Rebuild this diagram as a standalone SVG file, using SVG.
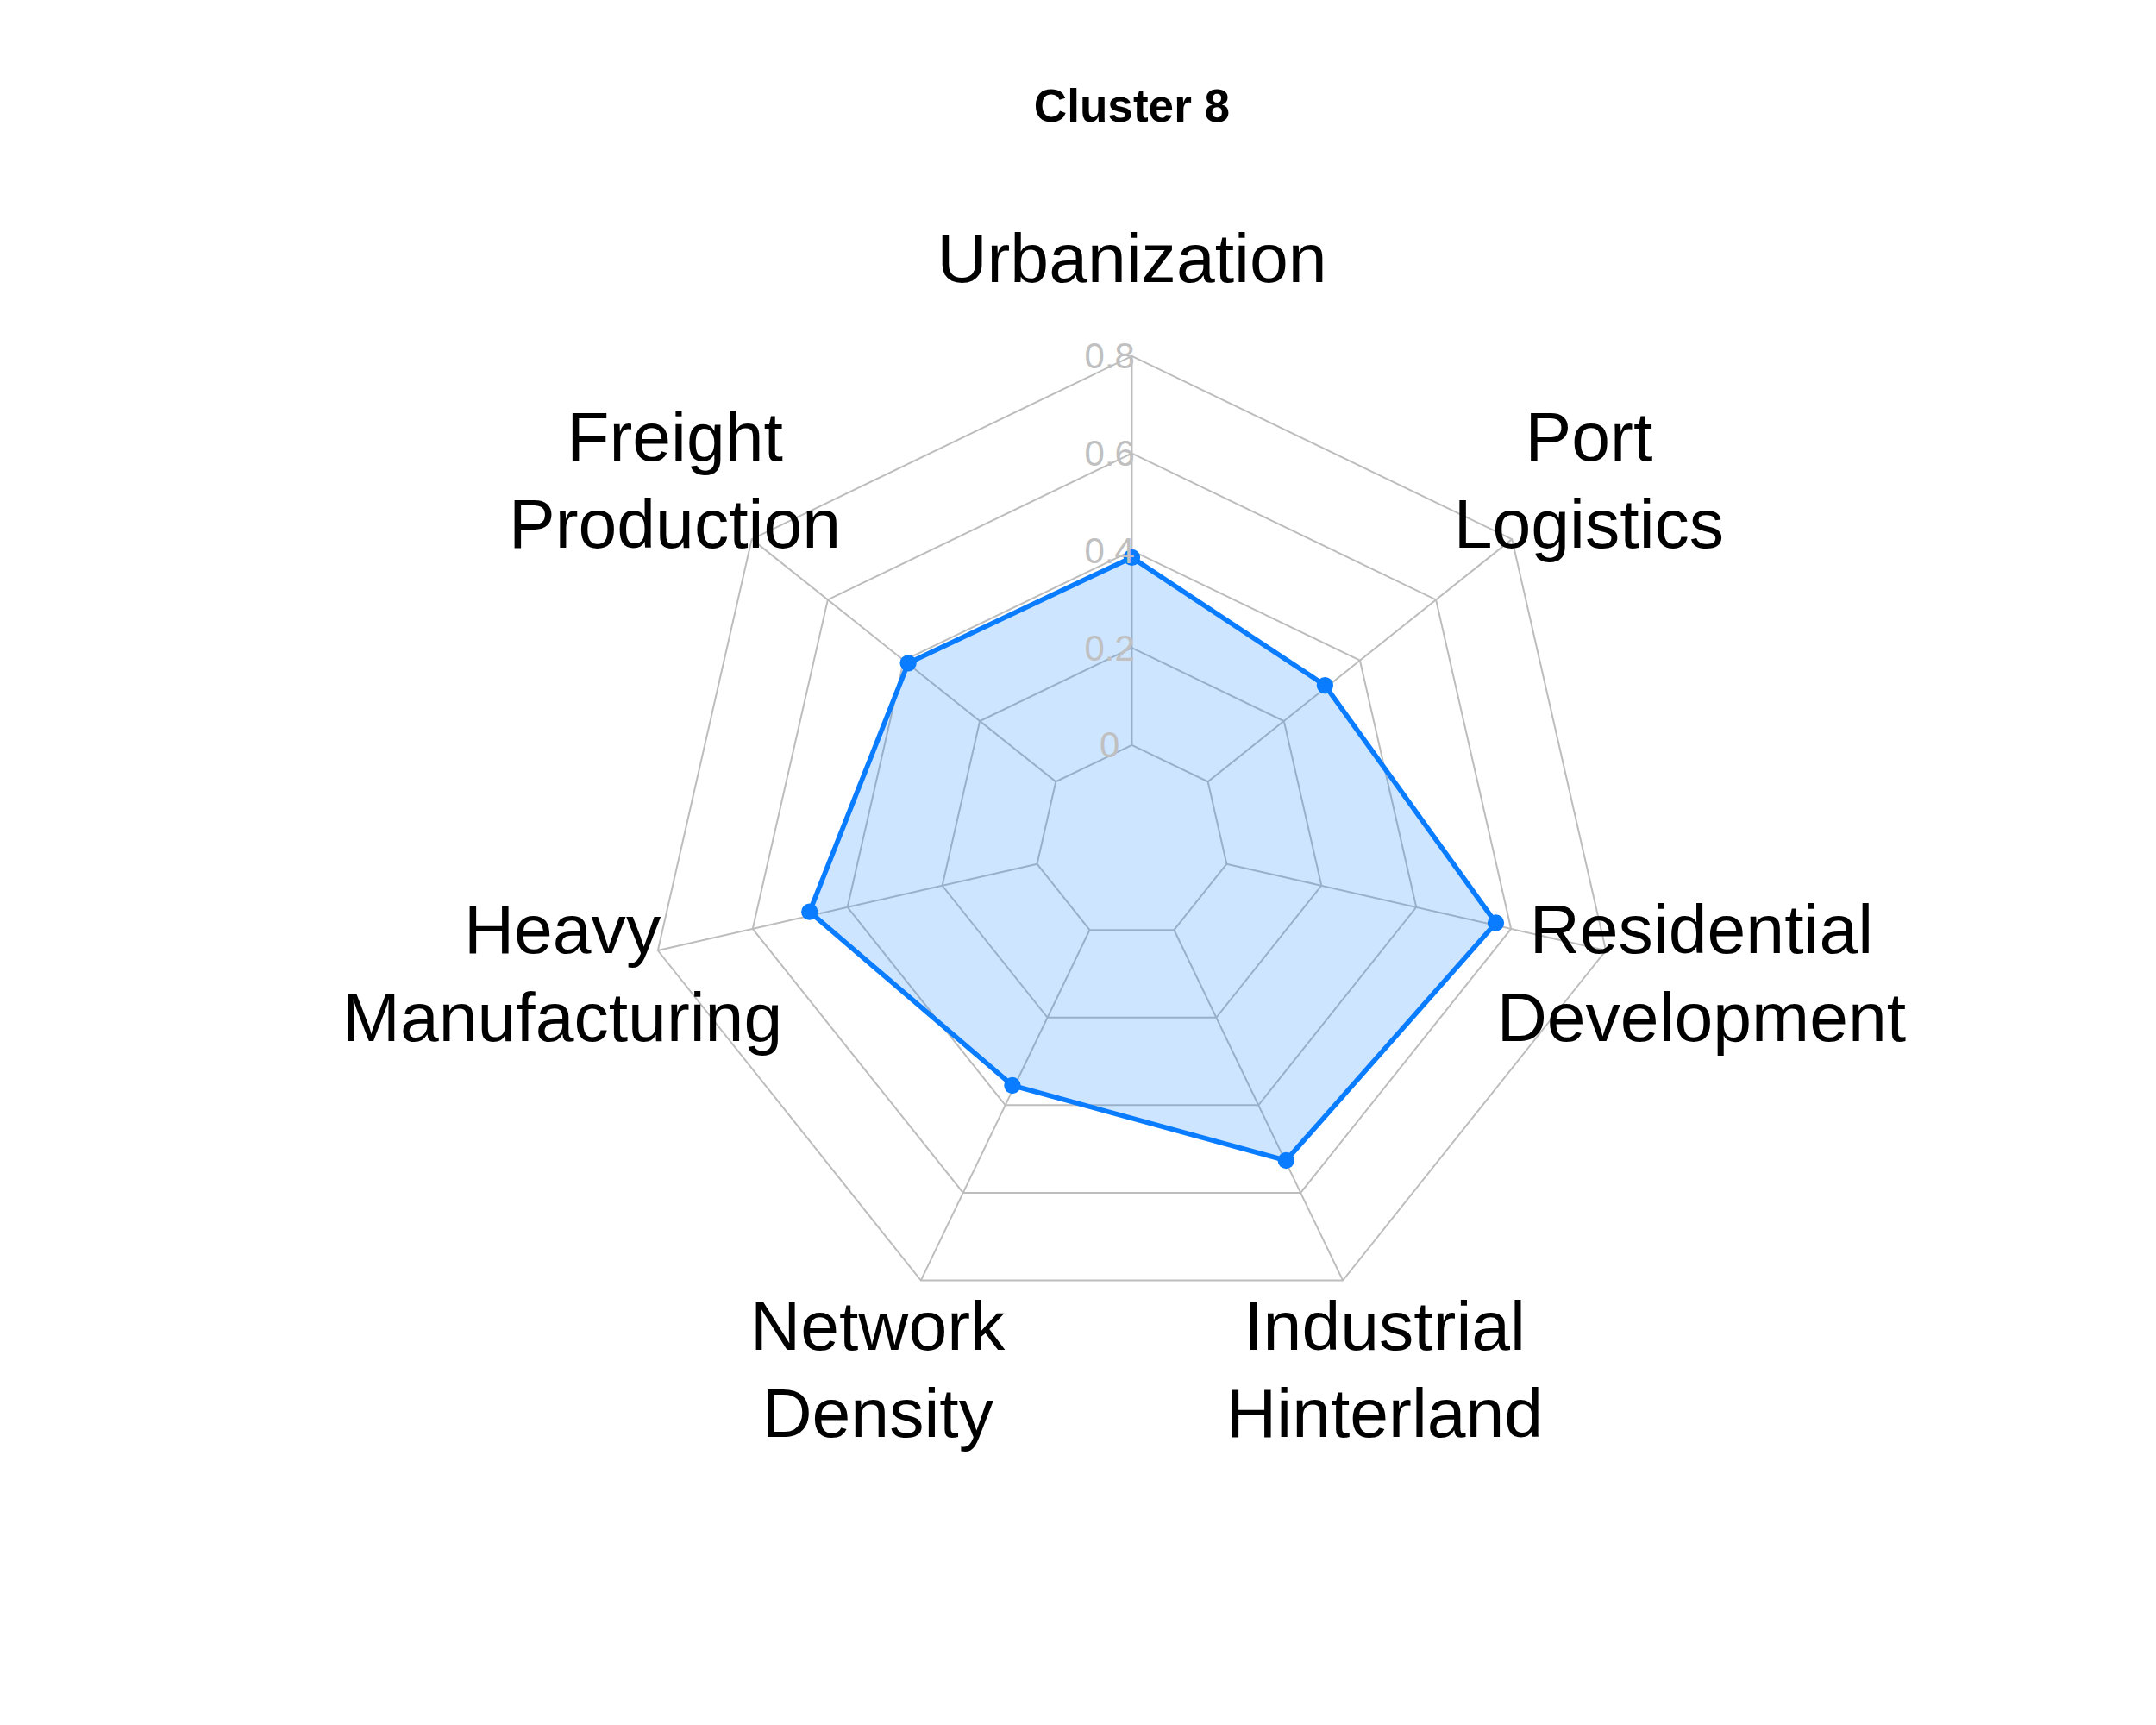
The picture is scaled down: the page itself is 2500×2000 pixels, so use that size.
<svg xmlns="http://www.w3.org/2000/svg" width="2500" height="2000" viewBox="0 0 2500 2000">
<style>
.grid{fill:none;stroke:#bdbdbd;stroke-width:2}
.tick{font-family:"Liberation Sans",Arial,sans-serif;font-size:26px;fill:#c0c0c0;text-anchor:middle;dominant-baseline:central}
.lab{font-family:"Liberation Sans",Arial,sans-serif;font-size:50px;fill:#000;text-anchor:middle}
.pt{fill:#0a7cff}
</style>
<rect width="2500" height="2000" fill="#fff"/>
<g transform="translate(-10,-6) scale(1.6108)">
<text x="821" y="91" font-family="Liberation Sans,Arial,sans-serif" font-size="33" font-weight="bold" text-anchor="middle">Cluster 8</text>
<g id="grid" class="grid">
<polygon vector-effect="non-scaling-stroke" transform="translate(821,610) scale(70)" points="0,-1 0.7818,-0.6235 0.9749,0.2225 0.4339,0.901 -0.4339,0.901 -0.9749,0.2225 -0.7818,-0.6235"/>
<polygon vector-effect="non-scaling-stroke" transform="translate(821,610) scale(140)" points="0,-1 0.7818,-0.6235 0.9749,0.2225 0.4339,0.901 -0.4339,0.901 -0.9749,0.2225 -0.7818,-0.6235"/>
<polygon vector-effect="non-scaling-stroke" transform="translate(821,610) scale(210)" points="0,-1 0.7818,-0.6235 0.9749,0.2225 0.4339,0.901 -0.4339,0.901 -0.9749,0.2225 -0.7818,-0.6235"/>
<polygon vector-effect="non-scaling-stroke" transform="translate(821,610) scale(280)" points="0,-1 0.7818,-0.6235 0.9749,0.2225 0.4339,0.901 -0.4339,0.901 -0.9749,0.2225 -0.7818,-0.6235"/>
<polygon vector-effect="non-scaling-stroke" transform="translate(821,610) scale(350)" points="0,-1 0.7818,-0.6235 0.9749,0.2225 0.4339,0.901 -0.4339,0.901 -0.9749,0.2225 -0.7818,-0.6235"/>
<path vector-effect="non-scaling-stroke" d="M821,540L821,260 M875.7,566.4L1094.6,391.8 M889.2,625.6L1162.2,687.9 M851.4,673.1L972.9,925.4 M790.6,673.1L669.1,925.4 M752.8,625.6L479.8,687.9 M766.3,566.4L547.4,391.8"/>
</g>
<g id="series">
<polygon points="821,405 960,497 1083,668 932,839 735,785 589,660 660,481" fill="#0a7cff" fill-opacity="0.2" stroke="#0a7cff" stroke-width="3.5" stroke-linejoin="round"/>
<circle class="pt" cx="821" cy="405" r="6"/><circle class="pt" cx="960" cy="497" r="6"/><circle class="pt" cx="1083" cy="668" r="6"/><circle class="pt" cx="932" cy="839" r="6"/><circle class="pt" cx="735" cy="785" r="6"/><circle class="pt" cx="589" cy="660" r="6"/><circle class="pt" cx="660" cy="481" r="6"/>
</g>
<g id="ticks">
<text class="tick" x="805" y="540">0</text>
<text class="tick" x="805" y="470">0.2</text>
<text class="tick" x="805" y="400">0.4</text>
<text class="tick" x="805" y="330">0.6</text>
<text class="tick" x="805" y="260">0.8</text>
</g>
<g id="labels">
<text class="lab" x="821" y="207">Urbanization</text>
<text class="lab" x="1150" y="335">Port</text><text class="lab" x="1150" y="398">Logistics</text>
<text class="lab" x="1231" y="690">Residential</text><text class="lab" x="1231" y="753">Development</text>
<text class="lab" x="1003" y="975">Industrial</text><text class="lab" x="1003" y="1038">Hinterland</text>
<text class="lab" x="638" y="975">Network</text><text class="lab" x="638" y="1038">Density</text>
<text class="lab" x="411" y="690">Heavy</text><text class="lab" x="411" y="753">Manufacturing</text>
<text class="lab" x="492" y="335">Freight</text><text class="lab" x="492" y="398">Production</text>
</g>
</g>
</svg>
